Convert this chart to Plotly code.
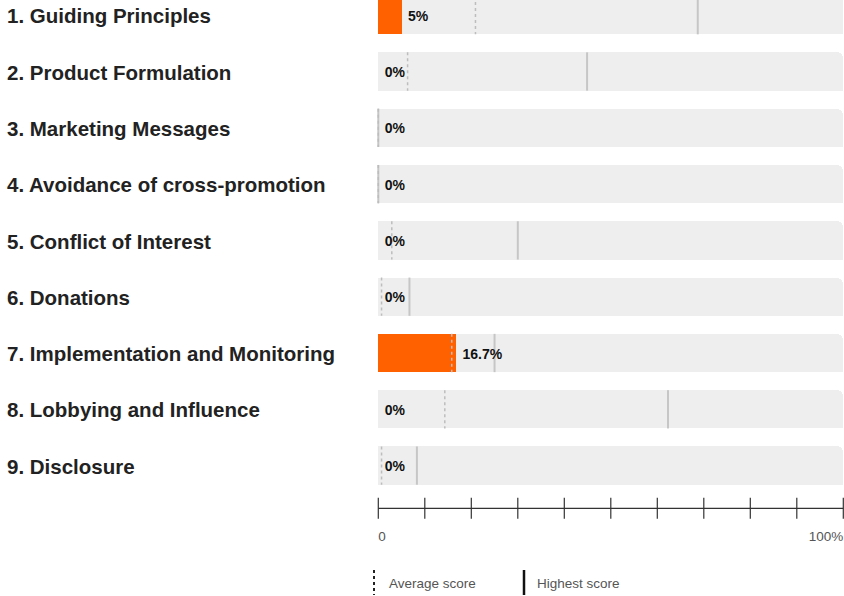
import plotly.graph_objects as go

# ---- data ----
categories = [
    "1. Guiding Principles",
    "2. Product Formulation",
    "3. Marketing Messages",
    "4. Avoidance of cross-promotion",
    "5. Conflict of Interest",
    "6. Donations",
    "7. Implementation and Monitoring",
    "8. Lobbying and Influence",
    "9. Disclosure",
]
scores = [5, 0, 0, 0, 0, 0, 16.7, 0, 0]
average_scores = [20.9, 6.3, 0, 0, 2.9, 0.7, 15.8, 14.3, 0.7]
highest_scores = [68.7, 44.9, 0, 0, 30.0, 6.7, 25.0, 62.3, 8.3]
score_labels = ["5%", "0%", "0%", "0%", "0%", "0%", "16.7%", "0%", "0%"]
axis_ticks = [0, 10, 20, 30, 40, 50, 60, 70, 80, 90, 100]
axis_tick_labels = {0: "0", 100: "100%"}
legend_labels = ["Average score", "Highest score"]

# ---- layout geometry ----
W, H = 844, 596
X0_PX, PX_PER_UNIT = 378.3, 4.65          # x pixel of value 0, pixels per percent
Y0_PX, ROW_PX = 15.2, 56.3                # y pixel of first row centre, row pitch
BAR_W = 0.68


def px_x(p):
    return (p - X0_PX) / PX_PER_UNIT


def px_y(p):
    return (p - Y0_PX) / ROW_PX


rows = list(range(len(categories)))
ORANGE = "#ff6000"
BG = "#eeeeee"
FONT = "Liberation Sans, Arial, sans-serif"

fig = go.Figure()

# background track: rounded full bar + square bottom half (only top-right corner rounded)
fig.add_trace(go.Bar(x=[100] * len(rows), y=rows, orientation="h", width=BAR_W,
                     marker=dict(color=BG, cornerradius=6, line_width=0),
                     hoverinfo="skip", showlegend=False))
fig.add_trace(go.Bar(x=[100] * len(rows), y=rows, orientation="h", width=BAR_W / 2,
                     offset=0, marker=dict(color=BG, line_width=0),
                     hoverinfo="skip", showlegend=False))
# score bars
fig.add_trace(go.Bar(x=scores, y=rows, orientation="h", width=BAR_W,
                     marker=dict(color=ORANGE, cornerradius=5, line_width=0),
                     hoverinfo="skip", showlegend=False))
fig.add_trace(go.Bar(x=scores, y=rows, orientation="h", width=BAR_W / 2,
                     offset=0, marker=dict(color=ORANGE, line_width=0),
                     hoverinfo="skip", showlegend=False))

# average (dotted) and highest (solid) markers
def segs(vals):
    xs, ys = [], []
    for i, v in zip(rows, vals):
        xs += [v, v, None]
        ys += [i - BAR_W / 2, i + BAR_W / 2, None]
    return xs, ys

ax, ay = segs(average_scores)
hx, hy = segs(highest_scores)
fig.add_trace(go.Scatter(x=hx, y=hy, mode="lines",
                         line=dict(color="#c6c6c6", width=2),
                         hoverinfo="skip", showlegend=False))
fig.add_trace(go.Scatter(x=ax, y=ay, mode="lines",
                         line=dict(color="#bdbdbd", width=1.5, dash="dot"),
                         hoverinfo="skip", showlegend=False))

# value labels
fig.add_trace(go.Scatter(x=[s + 6.5 / PX_PER_UNIT for s in scores],
                         y=[r + 2 / ROW_PX for r in rows],
                         mode="text", text=score_labels, textposition="middle right",
                         textfont=dict(family=FONT, size=14, color="#111111", weight="bold"),
                         hoverinfo="skip", showlegend=False, cliponaxis=False))

# category labels
fig.add_trace(go.Scatter(x=[px_x(7)] * len(rows), y=[r + 3 / ROW_PX for r in rows],
                         mode="text", text=categories,
                         textposition="middle right",
                         textfont=dict(family=FONT, size=20.5, color="#222222", weight="bold"),
                         hoverinfo="skip", showlegend=False, cliponaxis=False))

# axis
axis_y = px_y(508.3)
fig.add_trace(go.Scatter(x=[axis_ticks[0], axis_ticks[-1]], y=[axis_y, axis_y], mode="lines",
                         line=dict(color="#333333", width=1.2),
                         hoverinfo="skip", showlegend=False))
fig.add_trace(go.Scatter(x=axis_ticks, y=[axis_y] * len(axis_ticks), mode="markers",
                         marker=dict(symbol="line-ns", size=15,
                                     line=dict(color="#333333", width=1.2)),
                         hoverinfo="skip", showlegend=False, cliponaxis=False))
tick_y = px_y(537.5)
for v, lab in axis_tick_labels.items():
    fig.add_trace(go.Scatter(x=[v], y=[tick_y], mode="text", text=[lab],
                             textposition="middle right" if v == 0 else "middle left",
                             textfont=dict(family=FONT, size=13.5, color="#555555"),
                             hoverinfo="skip", showlegend=False, cliponaxis=False))

# legend
leg_top, leg_bot, leg_mid = px_y(570), px_y(595), px_y(584.5)
fig.add_trace(go.Scatter(x=[px_x(374), px_x(374)], y=[leg_top, leg_bot], mode="lines",
                         line=dict(color="#222222", width=2, dash="dot"),
                         hoverinfo="skip", showlegend=False))
fig.add_trace(go.Scatter(x=[px_x(524), px_x(524)], y=[leg_top, leg_bot], mode="lines",
                         line=dict(color="#111111", width=2.5),
                         hoverinfo="skip", showlegend=False))
fig.add_trace(go.Scatter(x=[px_x(389), px_x(537)], y=[leg_mid, leg_mid], mode="text",
                         text=legend_labels, textposition="middle right",
                         textfont=dict(family=FONT, size=13.5, color="#555555"),
                         hoverinfo="skip", showlegend=False, cliponaxis=False))

fig.update_layout(
    width=W, height=H,
    margin=dict(l=0, r=0, t=0, b=0),
    paper_bgcolor="white", plot_bgcolor="white",
    barmode="overlay", bargap=0,
    showlegend=False,
    xaxis=dict(range=[px_x(0), px_x(W)], visible=False, fixedrange=True),
    yaxis=dict(range=[px_y(H), px_y(0)], visible=False, fixedrange=True),
)

fig.write_html("out.html")
